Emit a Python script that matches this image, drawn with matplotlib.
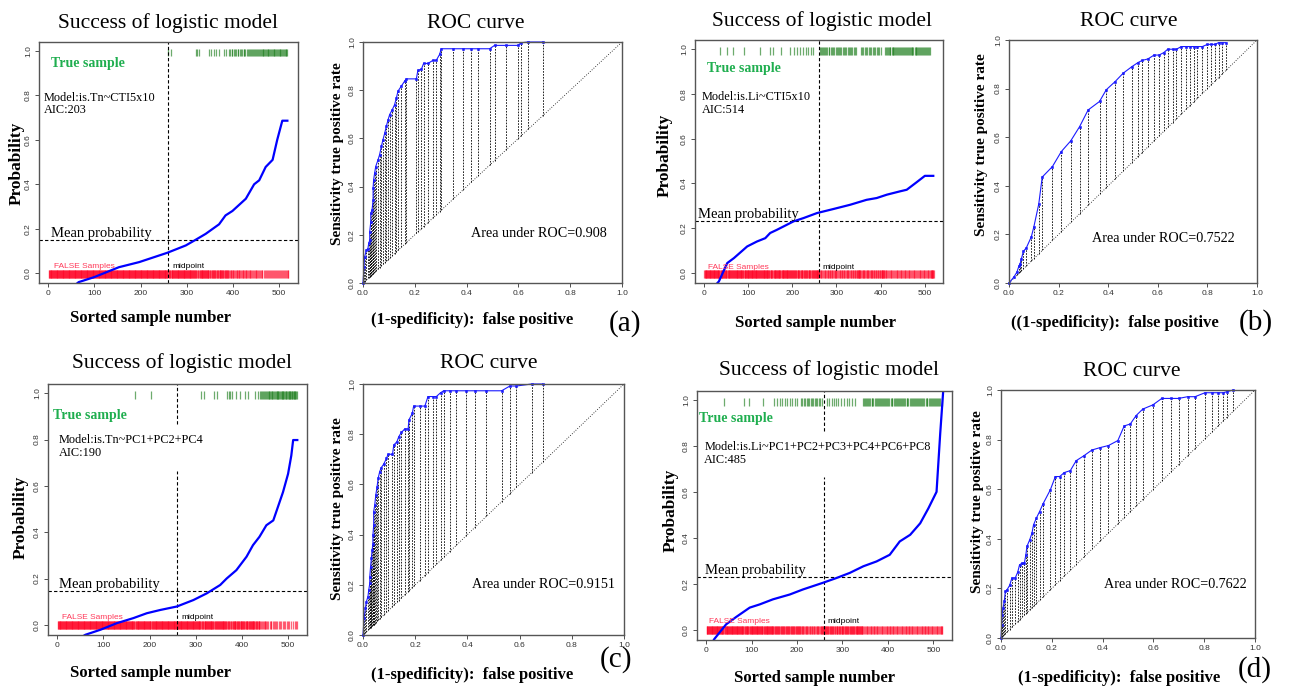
import matplotlib
matplotlib.use('Agg')
import matplotlib.pyplot as plt

plt.rcParams['font.family'] = 'Liberation Serif'

#figure size in pixels
W, H = 1289, 688
nSamples = 520
midpoint = 260

#panel (a) logistic
aCurveX = [60, 66, 99, 153, 197, 258, 298, 319, 341, 370, 384, 399, 428, 446,
           457, 471, 486, 496, 507, 518]
aCurveP = [-0.05, -0.04, -0.018, 0.027, 0.05, 0.092, 0.125, 0.15, 0.177, 0.22,
           0.26, 0.28, 0.335, 0.40, 0.418, 0.478, 0.51, 0.60, 0.686, 0.686]
aTrue = [259, 266, 319, 322, 326, 348, 353, 359, 363, 370, 381, 385,
         391, 394, 397, 399, 402, 404, 407, 410, 412, 415, 417, 420, 423, 425,
         427, 430, 432, 434, 437, 439, 441, 444, 446, 448, 450, 452, 455, 457,
         459, 461, 463, 465, 466, 468, 470, 472, 474, 476, 477, 479, 481, 483,
         485, 487, 488, 490, 492, 494, 496, 498, 500, 501, 503, 505, 507, 509,
         511, 512, 514, 516, 518]
aMean = 0.151
aModel = 'Model:is.Tn~CTI5x10'
aAIC = 'AIC:203'

#panel (b) logistic
bCurveX = [28, 34, 53, 68, 98, 120, 139, 150, 165, 180, 203, 226, 256, 293,
           331, 368, 391, 414, 444, 459, 481, 500, 519]
bCurveP = [-0.05, -0.037, 0.045, 0.067, 0.119, 0.141, 0.156, 0.179, 0.193,
           0.208, 0.231, 0.246, 0.268, 0.286, 0.305, 0.327, 0.335, 0.35, 0.365,
           0.372, 0.405, 0.434, 0.434]
bTrue = [37, 52, 67, 91, 128, 149, 157, 175, 196, 205, 211, 217, 225, 230,
         235, 243, 248,
         263, 265, 268, 270, 272, 275, 277, 279, 282, 284, 287, 290, 292, 295,
         298, 301, 303, 306, 309, 311, 314, 316, 319, 322, 325, 328, 330, 333,
         336, 339, 342, 345,
         355, 358, 361, 364, 367, 370, 373, 376, 379, 382, 385, 388, 391, 394,
         397, 400,
         410, 412, 414, 416, 418, 420, 422, 425, 427, 429, 431, 433, 435, 438,
         440, 442, 444, 446, 448, 451, 453, 455, 457, 459, 461, 464, 466, 468,
         470, 472, 474, 477, 479, 481, 483, 485, 487, 490, 492, 494, 496, 498,
         500, 503, 505, 507, 509, 511]
bMean = 0.231
bModel = 'Model:is.Li~CTI5x10'
bAIC = 'AIC:514'

#panel (c) logistic
cCurveX = [55, 61, 94, 129, 165, 194, 223, 259, 295, 324, 353, 367, 388, 410,
           424, 438, 453, 468, 478, 489, 500, 507, 511, 520]
cCurveP = [-0.05, -0.043, -0.021, 0.007, 0.029, 0.05, 0.064, 0.079, 0.107,
           0.136, 0.172, 0.2, 0.236, 0.294, 0.344, 0.38, 0.43, 0.451, 0.509,
           0.573, 0.652, 0.731, 0.798, 0.798]
cTrue = [168, 204, 311, 317, 340, 345, 367, 371, 375, 379, 388, 396, 406, 414,
         428, 435,
         440, 442, 444, 446, 448, 450, 452, 454, 456, 458, 459, 461, 463, 465,
         466, 468, 470, 471, 473, 475, 476, 478, 479, 481, 483, 484, 486, 487,
         489, 490, 492, 493, 495, 496, 498, 499, 501, 502, 504, 505, 507, 508,
         509, 511, 512, 513, 515, 516, 517, 519]
cMean = 0.146
cModel = 'Model:is.Tn~PC1+PC2+PC4'
cAIC = 'AIC:190'

#panel (d) logistic
dCurveX = [15, 18, 44, 66, 96, 118, 147, 184, 213, 257, 287, 316, 346, 375,
           404, 426, 449, 471, 489, 507, 515, 522]
dCurveP = [-0.05, -0.04, 0.024, 0.056, 0.097, 0.111, 0.133, 0.154, 0.176,
           0.205, 0.226, 0.248, 0.277, 0.298, 0.327, 0.385, 0.414, 0.464,
           0.529, 0.601, 0.853, 1.05]
dTrue = [40, 83, 95, 125, 150, 156, 162, 167, 173, 179, 184, 189, 195, 201,
         209, 212, 215, 218, 221, 224, 227, 230, 233, 236, 239, 242, 245, 248,
         251, 254,
         265, 270, 276, 281, 286, 291, 297, 303, 309, 315, 321, 327,
         345, 347, 350, 352, 354, 357, 359, 361, 364, 366, 368, 371, 373, 375,
         378, 380, 382, 385, 387, 389, 392, 394, 396, 399, 401, 403, 406, 408,
         410, 413, 415, 417, 420, 422, 424, 427, 429, 431, 434, 436, 438, 441,
         443, 445, 448, 450, 452, 455, 457, 459, 462, 464, 466, 469, 471, 473,
         476, 478, 480, 483, 485, 487, 490, 492, 494, 497, 499, 501, 504, 506,
         508, 511, 513, 515, 518]
dMean = 0.23
dModel = 'Model:is.Li~PC1+PC2+PC3+PC4+PC6+PC8'
dAIC = 'AIC:485'

#ROC curves
aFpr = [0, 0.004, 0.006, 0.013, 0.019, 0.022, 0.026, 0.026, 0.03, 0.03, 0.035,
        0.039, 0.039, 0.041, 0.045, 0.049, 0.058, 0.064, 0.071, 0.077, 0.084,
        0.09, 0.097, 0.103, 0.113, 0.122, 0.129, 0.135, 0.148, 0.161, 0.167,
        0.206, 0.212, 0.225, 0.234, 0.251, 0.27, 0.283, 0.296, 0.302, 0.347,
        0.386, 0.418, 0.444, 0.489, 0.508, 0.553, 0.598, 0.611, 0.637, 0.695]
aTpr = [0, 0.067, 0.108, 0.136, 0.143, 0.164, 0.178, 0.213, 0.254, 0.289,
        0.303, 0.344, 0.393, 0.428, 0.456, 0.483, 0.511, 0.532, 0.567, 0.594,
        0.622, 0.65, 0.678, 0.699, 0.719, 0.74, 0.768, 0.796, 0.817, 0.838,
        0.847, 0.847, 0.883, 0.886, 0.911, 0.911, 0.924, 0.924, 0.949, 0.972,
        0.972, 0.972, 0.972, 0.972, 0.972, 0.986, 0.986, 0.986, 0.997, 1.0, 1.0]
bFpr = [0, 0.02, 0.032, 0.04, 0.045, 0.05, 0.058, 0.07, 0.09, 0.1, 0.12, 0.134,
        0.175, 0.211, 0.249, 0.285, 0.319, 0.365, 0.392, 0.428, 0.46, 0.495,
        0.52, 0.537, 0.56, 0.585, 0.605, 0.624, 0.64, 0.66, 0.675, 0.695,
        0.715, 0.73, 0.745, 0.76, 0.78, 0.80, 0.815, 0.83, 0.845, 0.86, 0.875]
bTpr = [0, 0.025, 0.045, 0.07, 0.08, 0.1, 0.13, 0.145, 0.19, 0.23, 0.325,
        0.436, 0.479, 0.541, 0.585, 0.644, 0.712, 0.747, 0.795, 0.829, 0.863,
        0.89, 0.907, 0.916, 0.922, 0.938, 0.938, 0.948, 0.962, 0.962, 0.962,
        0.973, 0.973, 0.973, 0.973, 0.973, 0.973, 0.982, 0.982, 0.982, 0.989,
        0.989, 0.989]
cFpr = [0, 0.004, 0.009, 0.013, 0.019, 0.022, 0.026, 0.026, 0.029, 0.032,
        0.035, 0.038, 0.038, 0.041, 0.041, 0.045, 0.049, 0.054, 0.058, 0.064,
        0.07, 0.079, 0.09, 0.096, 0.113, 0.118, 0.13, 0.137, 0.147, 0.16, 0.173,
        0.176, 0.189, 0.194, 0.217, 0.237, 0.249, 0.269, 0.281, 0.297, 0.309,
        0.332, 0.358, 0.396, 0.428, 0.473, 0.531, 0.563, 0.588, 0.646, 0.688]
cTpr = [0, 0.066, 0.106, 0.133, 0.153, 0.179, 0.206, 0.232, 0.272, 0.305,
        0.339, 0.361, 0.398, 0.438, 0.491, 0.518, 0.558, 0.591, 0.624, 0.651,
        0.667, 0.68, 0.704, 0.72, 0.72, 0.757, 0.77, 0.79, 0.807, 0.821, 0.821,
        0.857, 0.883, 0.912, 0.912, 0.912, 0.95, 0.95, 0.95, 0.965, 0.973,
        0.973, 0.973, 0.973, 0.973, 0.973, 0.973, 0.992, 0.992, 1.0, 1.0]
dFpr = [0, 0.003, 0.004, 0.008, 0.013, 0.017, 0.024, 0.034, 0.043, 0.056,
        0.066, 0.073, 0.083, 0.092, 0.098, 0.102, 0.113, 0.122, 0.128, 0.139,
        0.152, 0.165, 0.194, 0.214, 0.231, 0.249, 0.273, 0.296, 0.325, 0.358,
        0.391, 0.423, 0.46, 0.485, 0.509, 0.532, 0.558, 0.598, 0.633, 0.668,
        0.699, 0.735, 0.764, 0.803, 0.83, 0.856, 0.875, 0.889, 0.915]
dTpr = [0, 0.054, 0.094, 0.121, 0.148, 0.188, 0.195, 0.212, 0.242, 0.242,
        0.266, 0.295, 0.302, 0.302, 0.336, 0.369, 0.396, 0.423, 0.456, 0.483,
        0.51, 0.54, 0.597, 0.651, 0.651, 0.667, 0.675, 0.715, 0.734, 0.758,
        0.768, 0.776, 0.796, 0.855, 0.863, 0.897, 0.923, 0.94, 0.966, 0.966,
        0.966, 0.973, 0.973, 0.989, 0.989, 0.989, 0.989, 0.993, 1.0]
aucLabels = ['Area under ROC=0.908', 'Area under ROC=0.7522',
             'Area under ROC=0.9151', 'Area under ROC=0.7622']

greenText = '#1fae4f'
redText = '#ff3a5a'
frameGray = '#555555'


def addAxes(fig, left, top, right, bottom):
    #pixel box -> figure fraction
    return fig.add_axes([left/W, 1-bottom/H, (right-left)/W, (bottom-top)/H])


def figText(fig, x, y, s, **kw):
    fig.text(x/W, 1-y/H, s, ha='center', va='center', **kw)


def styleFrame(ax):
    for s in ax.spines.values():
        s.set_color(frameGray)
        s.set_linewidth(1.0)
    ax.tick_params(labelsize=6, colors='#333333', length=3, width=0.6, pad=2,
                   labelfontfamily='Liberation Sans')
    ax.tick_params(axis='y', labelrotation=90)
    for lab in ax.get_yticklabels():
        lab.set_va('center')


def logisticPanel(ax, curveX, curveP, trueIdx, meanP, model, aic, pos,
                  brokenMid=False):
    trueSet = set(trueIdx)
    falseIdx = [i for i in range(1, nSamples+1) if i not in trueSet]
    ax.set_xlim(-20, 541)
    ax.set_ylim(-0.044, 1.04)
    ax.vlines(falseIdx, -0.02, 0.016, color='#ff0022', alpha=0.6, lw=0.9)
    ax.vlines(trueIdx, 0.975, 1.008, color='#1f7f1f', alpha=0.65, lw=0.9)
    ax.axhline(meanP, color='k', lw=0.8, ls=(0, (3, 2)))
    if brokenMid:
        ax.plot([midpoint]*2, [-0.044, 0.666], color='k', lw=0.8,
                ls=(0, (3, 2)))
        ax.plot([midpoint]*2, [0.867, 1.04], color='k', lw=0.8,
                ls=(0, (3, 2)))
    else:
        ax.axvline(midpoint, color='k', lw=0.8, ls=(0, (3, 2)))
    ax.plot(curveX, curveP, color='#0000ff', lw=1.6)
    ax.text(pos['true'][0], pos['true'][1], 'True sample', color=greenText,
            fontsize=10, fontweight='bold', va='center')
    ax.text(pos['model'][0], pos['model'][1], model, fontsize=8.8,
            va='center')
    ax.text(pos['model'][0], pos['aic'], aic, fontsize=8.8, va='center')
    ax.text(pos['mean'][0], pos['mean'][1], 'Mean probability',
            fontsize=10.5, va='center')
    ax.text(pos['false'][0], pos['false'][1], 'FALSE Samples', color=redText,
            fontsize=6, va='center', family='Liberation Sans')
    ax.text(pos['mid'][0], pos['false'][1], 'midpoint', color='k',
            fontsize=6, va='center', family='Liberation Sans')
    ax.set_xticks([0, 100, 200, 300, 400, 500])
    ax.set_yticks([0, 0.2, 0.4, 0.6, 0.8, 1.0])
    styleFrame(ax)


def rocPanel(ax, fpr, tpr, aucLabel, aucPos):
    ax.set_xlim(0, 1)
    ax.set_ylim(0, 1)
    ax.plot([0, 1], [0, 1], color='k', lw=0.6, ls=(0, (1, 2)))
    ax.vlines(fpr, fpr, tpr, colors='k', lw=0.6, linestyles=(0, (2, 1.5)))
    ax.plot(fpr, tpr, color='#1a1aff', lw=0.8, marker='s', ms=1.8, mew=0.4,
            clip_on=False)
    ax.text(aucPos[0], aucPos[1], aucLabel, fontsize=10.2, va='center')
    ax.set_xticks([0, 0.2, 0.4, 0.6, 0.8, 1.0])
    ax.set_yticks([0, 0.2, 0.4, 0.6, 0.8, 1.0])
    styleFrame(ax)


fig = plt.figure(figsize=(W/100, H/100), dpi=100)

axA = addAxes(fig, 39, 42, 298, 283)
logisticPanel(axA, aCurveX, aCurveP, aTrue, aMean, aModel, aAIC,
              {'true': (5, 0.945), 'model': (-9, 0.79), 'aic': 0.733,
               'mean': (5, 0.178), 'false': (12, 0.03), 'mid': (270, 0)})
axB = addAxes(fig, 695, 40, 943, 283)
logisticPanel(axB, bCurveX, bCurveP, bTrue, bMean, bModel, bAIC,
              {'true': (7.5, 0.915), 'model': (-4, 0.784), 'aic': 0.729,
               'mean': (-13.5, 0.26), 'false': (9, 0.027), 'mid': (269, 0)})
axC = addAxes(fig, 48, 384, 307, 635)
logisticPanel(axC, cCurveX, cCurveP, cTrue, cMean, cModel, cAIC,
              {'true': (-9, 0.905), 'model': (3.6, 0.798), 'aic': 0.742,
               'mean': (3.6, 0.175), 'false': (9.4, 0.032), 'mid': (270, 0)},
              brokenMid=True)
axD = addAxes(fig, 697, 391, 952, 640)
logisticPanel(axD, dCurveX, dCurveP, dTrue, dMean, dModel, dAIC,
              {'true': (-15, 0.92), 'model': (-4, 0.795), 'aic': 0.738,
               'mean': (-1.5, 0.259), 'false': (7, 0.035), 'mid': (266, 0)},
              brokenMid=True)

rocA = addAxes(fig, 363, 42, 622, 283)
rocPanel(rocA, aFpr, aTpr, aucLabels[0], (0.418, 0.206))
rocB = addAxes(fig, 1009, 40, 1257, 283)
rocPanel(rocB, bFpr, bTpr, aucLabels[1], (0.336, 0.185))
rocC = addAxes(fig, 363, 384, 624, 635)
rocPanel(rocC, cFpr, cTpr, aucLabels[2], (0.416, 0.2))
rocD = addAxes(fig, 1001, 390, 1255, 638)
rocPanel(rocD, dFpr, dTpr, aucLabels[3], (0.406, 0.215))

#titles
for x, y in [(168, 23), (822, 21), (182, 363), (829, 370)]:
    figText(fig, x, y, 'Success of logistic model', fontsize=15.5)
for x, y in [(476, 23), (1129, 21), (489, 363), (1132, 372)]:
    figText(fig, x, y, 'ROC curve', fontsize=15.5)

#axis labels
for x, y in [(150, 318), (815, 323), (150, 673), (814, 678)]:
    figText(fig, x, y, 'Sorted sample number', fontsize=12,
            fontweight='bold')
for (x, y), s in zip([(472, 320), (1115, 323), (472, 675), (1119, 678)],
                     ['(1-spedificity):  false positive',
                      '((1-spedificity):  false positive',
                      '(1-spedificity):  false positive',
                      '(1-spedificity):  false positive']):
    figText(fig, x, y, s, fontsize=12, fontweight='bold')
for x, y in [(17, 163), (665, 155), (21, 517), (671, 510)]:
    figText(fig, x, y, 'Probability', fontsize=12.5, fontweight='bold',
            rotation=90)
for x, y in [(337, 154), (982, 145), (337, 509), (978, 502)]:
    figText(fig, x, y, 'Sensitivity true positive rate', fontsize=11,
            fontweight='bold', rotation=90)

#panel letters
for (x, y), s in zip([(625, 324), (1256, 323), (616, 660), (1255, 670)],
                     ['(a)', '(b)', '(c)', '(d)']):
    figText(fig, x, y, s, fontsize=21)

fig.savefig('out.png', dpi=100)
